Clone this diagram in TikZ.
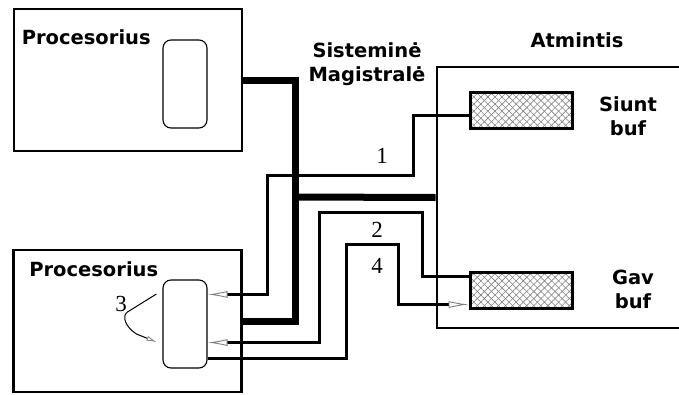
\documentclass[tikz,border=0pt]{standalone}
\usepackage{fontspec}
\setmainfont{DejaVu Sans}
\newfontfamily\numfont{Liberation Serif}
\usetikzlibrary{arrows.meta,calc,patterns.meta}
\tikzset{
  hw/box/.style={draw, line width=2.8pt, inner sep=0pt, minimum width=228pt, minimum height=142pt},
  hw/core/.style={draw, line width=1.1pt, rounded corners=8pt, inner sep=0pt, minimum width=44pt, minimum height=88pt},
  hw/mem/.style={draw, line width=2.8pt, inner sep=0pt, minimum width=263pt, minimum height=261pt},
  hw/buf/.style={draw, line width=3pt, inner sep=0pt, minimum width=102pt, minimum height=36pt,
    preaction={pattern={Lines[angle=45,distance=5pt,line width=0.6pt]}, pattern color=gray},
    pattern={Lines[angle=-45,distance=5pt,line width=0.6pt]}, pattern color=gray},
  hw/txt/.style={font=\bfseries\fontsize{19.5}{24}\selectfont, align=center, inner sep=0pt},
  hw/num/.style={font=\numfont\fontsize{23}{23}\selectfont, inner sep=0pt, anchor=base},
  hw/bus/.style={line width=7pt},
  hw/sig/.style={line width=3pt},
  hw/tip/.style={-{Latex[open,length=20pt,width=7pt,line width=0.9pt,color=gray]}},
  hw/loop/.style={line width=1pt, -{Latex[open,length=10pt,width=5pt,line width=0.8pt,color=gray]}}
}
\begin{document}
\begin{tikzpicture}[x=1pt,y=-1pt]
\clip (0,0) rectangle (679,394);
% procesoriai
\node[hw/box] (cpuA) at (128,80) {};
\node[hw/box] (cpuB) at (127.5,321) {};
\node[hw/core] (coreA) at (185,84) {};
\node[hw/core] (coreB) at (185,324) {};
\node[hw/txt,anchor=base west] (nameA) at ($(cpuA.north west)+(9,37)$) {Procesorius};
\node[hw/txt,anchor=base west] (nameB) at ($(cpuB.north west)+(17,28)$) {Procesorius};
% atmintis
\node[hw/mem] (mem) at (568.5,197.5) {};
\node[hw/buf] (sbuf) at (521,110) {};
\node[hw/buf] (gbuf) at (521,290) {};
\node[hw/txt,anchor=base] (memname) at (577,47) {Atmintis};
\node[hw/txt,anchor=base] (sname) at (628,135) {Siunt\\buf};
\node[hw/txt,anchor=base] (gname) at (633,308) {Gav\\buf};
\node[hw/txt,anchor=base] (busname) at (367,81) {Sisteminė\\Magistralė};
% magistrale
\coordinate (busjoin) at (295,197);
\draw[hw/bus] (cpuA.east) -| (busjoin) |- (cpuB.east);
\draw[hw/bus] (busjoin) -- (mem.west);
% linijos
\draw[hw/sig,hw/tip] ($(sbuf.west)+(0,5)$) -- ++(-56,0) |- ++(-146,60) |- ($(coreB.north east)+(0,15)$);
\draw[hw/sig,hw/tip] ($(gbuf.north west)+(0,6)$) -- ++(-46,0) |- ++(-103,-64) |- ($(coreB.south east)+(0,-26)$);
\draw[hw/sig,hw/tip] ($(coreB.south east)+(0,-10)$) -| ++(139,-114) -- ++(52,0) |- ($(gbuf.south west)+(0,-5)$);
\coordinate (loopA) at ($(coreB.west)+(-6,-30)$);
\coordinate (loopB) at ($(coreB.west)+(-6,18)$);
\draw[hw/loop] (loopA) -- ($(loopA)+(-29,18)$) .. controls ($(loopA)+(-35,22)$) and ($(loopB)+(-31,-15)$) .. ($(loopB)+(-20,-8)$) -- (loopB);
\node[hw/num] (n1) at (382,163) {1};
\node[hw/num] (n2) at (377,237) {2};
\node[hw/num] (n4) at (377,273) {4};
\node[hw/num] (n3) at (121,311) {3};
\end{tikzpicture}
\end{document}
